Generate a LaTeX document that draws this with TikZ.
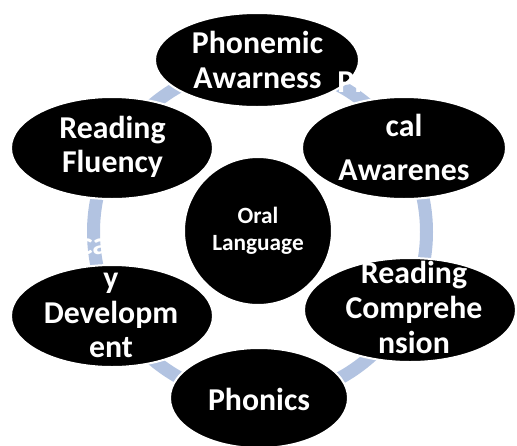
\documentclass[tikz,border=0pt]{standalone}
\usepackage{fontspec}
\setmainfont{Carlito}
\usetikzlibrary{shapes.geometric}
\definecolor{ringblue}{RGB}{178,195,225}

\begin{document}
\begin{tikzpicture}[x=1pt, y=-1pt,
    every node/.style={align=center, text=white,
                       font=\bfseries\fontsize{31.8}{35}\selectfont},
    bubble/.style={ellipse, fill=black, draw=white, line width=2pt,
                   inner sep=0pt},
    hub/.style={circle, fill=black, draw=white, line width=2pt,
                minimum size=148pt, inner sep=0pt,
                font=\bfseries\fontsize{23.3}{27}\selectfont}]
  \useasboundingbox (0,0) rectangle (517,445);
  % ring behind the bubbles
  \draw[ringblue, line width=13pt] (260,232) circle[radius=166.5];
  \node[hub] (oral) at (258,231) {Oral\\Language};
  % outer bubbles, clockwise from the top
  \node[bubble, minimum width=204pt, minimum height=94pt] (phonemic) at (257,60) {};
  \node (phonemic-t) at (257.5,60) {Phonemic\\Awarness};
  \node[bubble, minimum width=204pt, minimum height=102pt] (phonological) at (404,148) {};
  \node[font=\bfseries\fontsize{31.8}{44}\selectfont] (phonological-t) at (404,147.5)
    {Phonologi\\cal\\Awarenes\\s};
  \node[bubble, minimum width=212pt, minimum height=104pt] (comprehension) at (410,310) {};
  \node (comprehension-t) at (414,307.5) {Reading\\Comprehe\\nsion};
  \node[bubble, minimum width=178pt, minimum height=100pt] (phonics) at (259,398) {};
  \node (phonics-t) at (259,399) {Phonics};
  \node[bubble, minimum width=202pt, minimum height=102pt] (vocabulary) at (112,316) {};
  \node[font=\bfseries\fontsize{31.8}{34.5}\selectfont] (vocabulary-t) at (111,295)
    {Vocabular\\y\\Developm\\ent};
  \node[bubble, minimum width=202pt, minimum height=102pt] (fluency) at (112,148) {};
  \node[font=\bfseries\fontsize{31.8}{34}\selectfont] (fluency-t) at (112.5,147)
    {Reading\\Fluency};
\end{tikzpicture}
\end{document}
